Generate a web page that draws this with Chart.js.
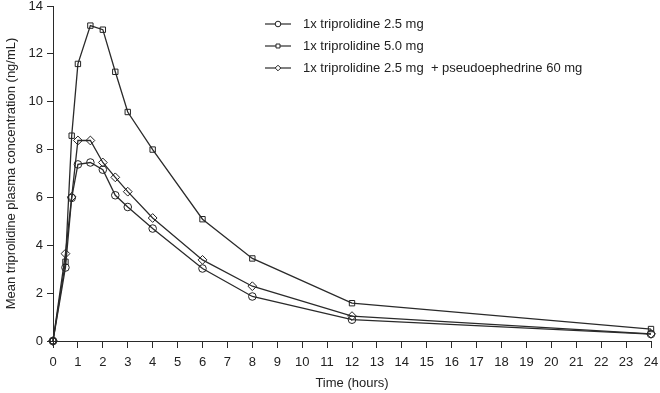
<!DOCTYPE html>
<html>
<head>
<meta charset="utf-8">
<script src="https://cdn.jsdelivr.net/npm/chart.js@4.4.0/dist/chart.umd.min.js"></script>
<style>
  html, body { margin: 0; padding: 0; background: #fff; }
  #wrap { width: 660px; height: 393px; }
</style>
</head>
<body>
<div id="wrap"><canvas id="pkChart" width="660" height="393"></canvas></div>
<script>
// sampling times (hours)
const times = [0, 0.5, 0.75, 1, 1.5, 2, 2.5, 3, 4, 6, 8, 12, 24];

// mean plasma concentration (ng/mL)
const trip25 = [0, 3.07, 5.98, 7.38, 7.46, 7.16, 6.09, 5.6, 4.7, 3.03, 1.86, 0.89, 0.29];
const trip50 = [0, 3.31, 8.58, 11.58, 13.18, 13.01, 11.25, 9.57, 8.0, 5.09, 3.45, 1.58, 0.5];
const trip25pse = [0, 3.65, 6.02, 8.38, 8.38, 7.46, 6.84, 6.24, 5.14, 3.39, 2.29, 1.04, 0.3];

const seriesLabels = [
    '1x triprolidine 2.5 mg',
    '1x triprolidine 5.0 mg',
    '1x triprolidine 2.5 mg  + pseudoephedrine 60 mg'
];
const markers = ['circle', 'rect', 'rectRot'];

const xTicks = 24;
const yMax = 14;

const ink = '#2a2a2a';
const font = { family: 'Liberation Sans, Arial, sans-serif', size: 13 };

function toPoints(vals) {
    return vals.map((v, i) => ({ x: times[i], y: v }));
}

const datasets = [trip25, trip50, trip25pse].map((vals, i) => ({
    label: seriesLabels[i],
    data: toPoints(vals),
    borderColor: ink,
    borderWidth: 1.3,
    backgroundColor: '#fff',
    pointStyle: markers[i],
    pointRadius: i === 2 ? 4.4 : 3.8,
    pointBorderColor: '#222',
    pointBorderWidth: 1,
    pointBackgroundColor: 'rgba(255,255,255,0)',
    tension: 0,
    clip: false
}));

// legend drawn at top right, line + marker + label
const sideLegend = {
    id: 'sideLegend',
    afterDraw(chart) {
        const ctx = chart.ctx;
        const rows = [24, 46, 68];
        ctx.save();
        chart.data.datasets.forEach((ds, i) => {
            const y = rows[i];
            ctx.strokeStyle = ink;
            ctx.lineWidth = 1.2;
            ctx.beginPath();
            ctx.moveTo(265, y);
            ctx.lineTo(291, y);
            ctx.stroke();
            ctx.fillStyle = '#fff';
            ctx.strokeStyle = '#222';
            ctx.lineWidth = 1;
            Chart.helpers.drawPoint(ctx, { pointStyle: ds.pointStyle, radius: 2.8, rotation: 0, borderWidth: 1 }, 278, y);
            ctx.fillStyle = '#222';
            ctx.font = '13px ' + font.family;
            ctx.textBaseline = 'middle';
            ctx.textAlign = 'left';
            ctx.fillText(ds.label, 303, y);
        });
        ctx.restore();
    }
};

new Chart(document.getElementById('pkChart'), {
    type: 'line',
    data: { datasets: datasets },
    options: {
        responsive: false,
        animation: false,
        layout: { padding: { top: 6, right: 9, left: 0, bottom: 0 } },
        plugins: {
            legend: { display: false },
            tooltip: { enabled: false }
        },
        scales: {
            x: {
                type: 'linear',
                min: 0,
                max: xTicks,
                afterFit: s => { s.height = 52; s.paddingRight = 0; s.paddingLeft = 0; },
                ticks: { stepSize: 1, color: '#222', font: font, padding: 7, maxRotation: 0, autoSkip: false },
                grid: { drawOnChartArea: false, drawTicks: true, tickLength: 7, color: ink },
                border: { display: true, color: ink, width: 1 },
                title: { display: true, text: 'Time (hours)', color: '#222', font: font, padding: { top: 4, bottom: 2 } }
            },
            y: {
                min: 0,
                max: yMax,
                afterFit: s => { s.width = 53; s.paddingTop = 0; s.paddingBottom = 0; },
                ticks: { stepSize: 2, color: '#222', font: font, padding: 4 },
                grid: { drawOnChartArea: false, drawTicks: true, tickLength: 6, color: ink },
                border: { display: true, color: ink, width: 1 },
                title: { display: true, text: 'Mean triprolidine plasma concentration (ng/mL)', color: '#222', font: font, padding: { bottom: 2 } }
            }
        }
    },
    plugins: [sideLegend]
});
</script>
</body>
</html>
